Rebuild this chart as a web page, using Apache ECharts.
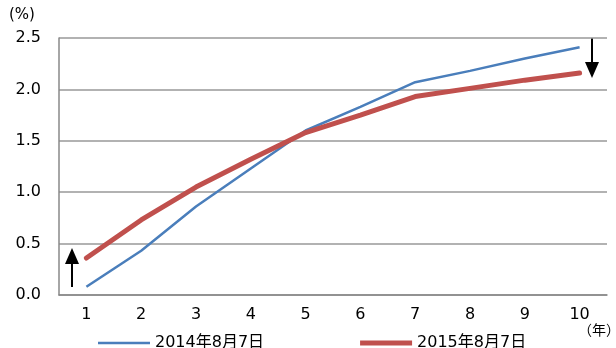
<!DOCTYPE html>
<html>
<head>
<meta charset="utf-8">
<script src="https://cdn.jsdelivr.net/npm/echarts@6/dist/echarts.min.js"></script>
<style>
html,body{margin:0;padding:0;background:#fff;}
#myChart{width:616px;height:348px;}
</style>
</head>
<body>
<div id="myChart"></div>
<script>
var years = ['1','2','3','4','5','6','7','8','9','10'];
var yTicks = [0, 0.5, 1.0, 1.5, 2.0, 2.5];
var seriesNames = ['2014年8月7日','2015年8月7日'];
var y2014 = [0.08, 0.43, 0.86, 1.23, 1.60, 1.83, 2.07, 2.18, 2.30, 2.41];
var y2015 = [0.36, 0.73, 1.05, 1.32, 1.58, 1.75, 1.93, 2.01, 2.09, 2.16];

var font = '"DejaVu Sans", "Noto Sans CJK JP", sans-serif';
var myChart = echarts.init(document.getElementById('myChart'));
var option = {
	animation: false,
	textStyle: { fontFamily: font },
	grid: { left: 59, right: 9, top: 38, bottom: 53 },
	legend: {
		top: 330,
		left: 93,
		itemWidth: 52,
		itemHeight: 12,
		itemGap: 96,
		textStyle: { fontSize: 16, color: '#000', fontFamily: font },
		data: [
			{ name: seriesNames[0], icon: 'path://M0,5 L52,5 L52,7.5 L0,7.5 Z' },
			{ name: seriesNames[1], icon: 'path://M0,3.5 L52,3.5 L52,8.5 L0,8.5 Z' }
		]
	},
	xAxis: {
		type: 'category',
		data: years,
		boundaryGap: true,
		axisLine: { lineStyle: { color: '#888', width: 1.5 } },
		axisTick: { inside: true, length: 4, lineStyle: { color: '#888', width: 1.5 } },
		axisLabel: { color: '#000', fontSize: 16, margin: 12, fontFamily: font }
	},
	yAxis: {
		type: 'value',
		min: yTicks[0],
		max: yTicks[yTicks.length - 1],
		interval: 0.5,
		axisLine: { show: true, lineStyle: { color: '#888', width: 1.5 } },
		axisTick: { show: false },
		axisLabel: {
			color: '#000', fontSize: 16, margin: 18, fontFamily: font,
			formatter: function(v){ return v.toFixed(1); }
		},
		splitLine: { lineStyle: { color: '#999', width: 1.5 } }
	},
	graphic: [
		{ type: 'text', left: 9, top: 8, style: { text: '(%)', fill: '#000', font: '15px ' + font } },
		{ type: 'text', left: 578, top: 323, style: { text: '（年）', fill: '#000', font: '14px "Noto Sans CJK JP", sans-serif' } },
		// up arrow near year 1
		{ type: 'line', shape: { x1: 72, y1: 287, x2: 72, y2: 262 }, style: { stroke: '#000', lineWidth: 2 } },
		{ type: 'polygon', shape: { points: [[72, 248], [65, 264], [79, 264]] }, style: { fill: '#000' } },
		// down arrow near year 10
		{ type: 'line', shape: { x1: 592, y1: 38, x2: 592, y2: 64 }, style: { stroke: '#000', lineWidth: 2 } },
		{ type: 'polygon', shape: { points: [[592, 78], [585, 62], [599, 62]] }, style: { fill: '#000' } }
	],
	series: [
		{
			name: seriesNames[0],
			type: 'line',
			data: y2014,
			symbol: 'none',
			lineStyle: { color: '#4a7ebb', width: 2.5 },
			itemStyle: { color: '#4a7ebb' }
		},
		{
			name: seriesNames[1],
			type: 'line',
			data: y2015,
			symbol: 'none',
			lineStyle: { color: '#c0504d', width: 5, cap: 'round' },
			itemStyle: { color: '#c0504d' }
		}
	]
};
myChart.setOption(option);
</script>
</body>
</html>
